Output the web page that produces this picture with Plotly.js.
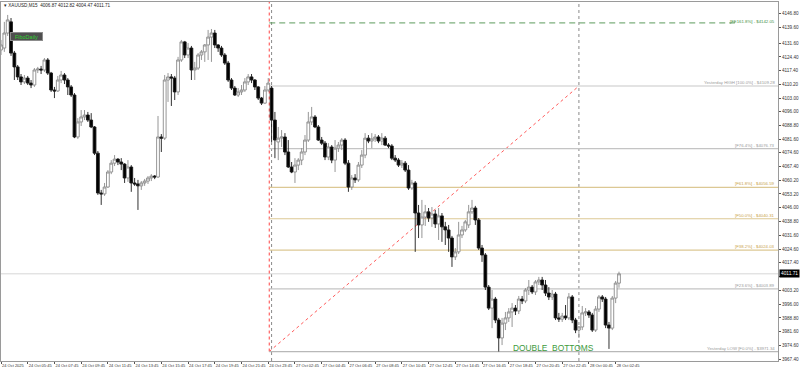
<!DOCTYPE html>
<html><head><meta charset="utf-8">
<script src="https://cdn.plot.ly/plotly-3.0.1.min.js"></script>
<style>html,body{margin:0;padding:0;background:#fff;}#chart{width:800px;height:370px;}</style>
</head><body><div id="chart"></div>
<script>
const symbol = "XAUUSD,M15";
const open = [
4128.0,4129.0,4136.8,4142.6,4126.4,4119.2,4114.0,4111.4,4113.4,4110.8,
4109.8,4117.6,4118.1,4117.6,4122.8,4116.0,4107.2,4106.7,4112.4,4115.0,
4112.4,4108.8,4104.6,4082.8,4090.6,4093.2,4094.2,4091.6,4088.0,4074.4,
4053.7,4053.2,4056.8,4064.6,4069.2,4071.3,4069.8,4068.7,4061.5,4067.2,
4058.9,4058.4,4057.4,4058.9,4059.9,4061.5,4062.5,4062.0,4082.8,4082.2,
4112.4,4114.0,4113.4,4106.2,4122.8,4132.2,4125.4,4129.0,4117.6,4118.6,
4125.4,4127.0,4130.6,4134.7,4136.8,4130.6,4129.0,4125.4,4121.2,4112.4,
4108.2,4104.6,4106.2,4107.2,4111.4,4114.0,4112.4,4108.8,4103.0,4100.4,
4107.2,
4108.2,4091.6,4080.2,4082.2,4082.8,4075.0,4067.2,4064.6,4068.2,
4070.8,4075.0,4081.2,4090.6,4093.2,4088.0,4081.2,4079.6,4072.4,4077.6,
4070.8,4077.0,4078.6,4081.2,4069.2,4056.8,4061.5,4060.5,4068.2,4073.4,
4082.2,4080.7,4081.8,4082.8,4080.7,4082.2,4078.6,4078.1,4071.8,4070.8,
4068.2,4069.2,4065.6,4056.3,4058.9,4043.3,4037.1,4041.2,4043.9,4040.7,
4042.8,4037.6,4041.8,4036.1,4034.5,4030.3,4020.5,4023.1,4031.9,4034.5,
4037.1,4043.9,4045.9,4039.7,4025.1,4021.5,4004.8,3993.9,3998.6,3987.7,
3978.4,3986.1,3988.8,3991.9,3993.9,3992.4,3998.6,3997.6,4003.3,4004.8,
4002.3,4007.5,4008.5,4005.9,4001.7,3999.7,4001.2,3988.8,3988.2,3989.8,
3988.8,3999.7,3987.7,3982.5,3984.1,3991.4,3991.9,3990.3,3982.5,3993.4,
3999.7,3998.6,3985.1,3983.5,3999.1,4006.87];
const high = [
4133.2,4142.6,4146.2,4144.6,4127.5,4120.2,4115.5,4115.0,4114.5,4112.4,
4118.6,4119.2,4119.7,4123.8,4123.8,4116.6,4108.8,4114.5,4117.1,4116.0,
4113.4,4109.8,4105.6,4092.6,4096.8,4096.8,4095.8,4095.2,4088.5,4075.5,
4055.3,4058.9,4065.6,4070.8,4073.4,4071.8,4071.8,4069.2,4070.8,4068.2,
4061.5,4060.5,4059.9,4061.0,4062.5,4063.5,4063.0,4093.7,4084.3,4115.0,
4116.0,4115.5,4114.5,4124.4,4133.2,4132.7,4131.6,4130.1,4121.8,4126.4,
4128.0,4131.1,4138.4,4138.9,4138.4,4131.1,4130.1,4126.4,4122.3,4113.4,
4109.3,4108.2,4109.8,4113.4,4115.5,4115.5,4112.9,4109.3,4103.6,4109.3,
4113.4,
4109.28,4095.8,4088.0,4086.4,4084.8,4081.2,4069.8,4071.8,4071.8,
4077.0,4083.8,4095.8,4098.4,4094.2,4089.0,4082.8,4080.7,4079.6,4078.6,
4081.2,4080.2,4082.2,4082.2,4070.8,4063.0,4063.5,4069.8,4076.0,4084.8,
4083.8,4084.8,4084.3,4083.8,4084.8,4083.3,4079.6,4079.1,4073.4,4071.8,
4070.8,4070.3,4068.2,4060.5,4059.9,4047.5,4050.1,4047.5,4045.9,4046.4,
4044.9,4045.9,4043.3,4038.7,4037.1,4031.4,4025.1,4038.7,4036.6,4039.7,
4047.5,4050.1,4047.0,4040.7,4026.7,4022.5,4005.9,4003.3,3999.7,3988.8,
3988.8,3991.9,3993.9,3996.5,3995.5,4000.2,4000.2,4004.3,4008.5,4005.9,
4008.5,4010.1,4010.1,4008.5,4004.8,4003.3,4002.3,3991.4,3991.4,3995.5,
4001.7,4000.7,3988.8,3984.6,3995.0,3993.9,3992.9,3991.4,3995.0,4000.7,
4000.7,3999.7,3986.7,4000.2,4008.0,4012.82];
const low = [
4125.4,4127.0,4135.3,4124.9,4112.4,4112.4,4109.8,4110.3,4109.8,4108.2,
4108.8,4116.0,4115.5,4116.6,4115.0,4106.2,4103.0,4106.2,4110.8,4110.3,
4104.6,4103.6,4082.2,4081.8,4088.5,4091.6,4090.6,4087.4,4073.4,4052.7,
4047.5,4052.2,4056.3,4063.5,4067.7,4068.2,4065.6,4058.9,4059.5,4054.3,
4057.4,4044.9,4055.3,4057.4,4058.4,4059.9,4060.9,4061.5,4075.0,4081.2,
4101.0,4098.9,4102.0,4104.6,4121.8,4123.8,4123.8,4112.4,4112.4,4117.6,
4122.8,4121.8,4122.8,4121.8,4129.0,4127.0,4124.4,4120.2,4111.4,4107.2,
4104.1,4103.6,4104.6,4106.2,4109.8,4110.8,4107.2,4102.0,4099.4,4099.9,
4106.2,
4080.2,4071.8,4070.8,4077.6,4073.4,4066.7,4064.0,4058.9,4065.6,
4068.2,4073.4,4080.2,4089.0,4087.4,4080.7,4078.6,4070.8,4070.8,4069.2,
4064.6,4075.0,4076.0,4068.2,4054.3,4055.3,4058.9,4059.5,4066.7,4071.8,
4079.6,4077.0,4080.2,4079.6,4078.6,4078.1,4077.0,4070.8,4069.8,4067.2,
4066.7,4064.6,4055.3,4055.3,4023.1,4030.3,4030.3,4036.6,4038.7,4036.1,
4035.5,4029.3,4028.3,4026.7,4023.1,4015.3,4018.9,4022.0,4030.3,4033.5,
4035.5,4042.8,4037.1,4024.1,4017.9,4003.3,3992.9,3983.5,3986.1,3971.34,
3974.7,3982.5,3986.7,3984.1,3990.3,3990.8,3996.0,3996.5,4000.7,4001.2,
4000.7,4005.9,4003.3,4000.2,3998.1,3998.1,3987.7,3986.7,3986.7,3987.7,
3987.7,3986.1,3980.9,3978.4,3982.5,3989.8,3988.8,3981.5,3981.5,3991.9,
3997.1,3983.5,3972.7,3982.5,3996.5,4004.47];
const close = [
4130.6,4136.8,4143.6,4126.4,4119.2,4114.0,4111.4,4113.4,4110.8,4109.8,
4117.6,4118.1,4117.6,4122.8,4116.0,4107.2,4106.7,4112.4,4115.0,4112.4,
4108.8,4104.6,4082.8,4090.6,4093.2,4094.2,4091.6,4088.0,4074.4,4053.7,
4053.2,4056.8,4064.6,4069.2,4071.3,4069.8,4068.7,4061.5,4067.2,4058.9,
4058.4,4057.4,4058.9,4059.9,4061.5,4062.5,4062.0,4082.8,4082.2,4112.4,
4114.0,4113.4,4106.2,4122.8,4132.2,4125.4,4129.0,4117.6,4118.6,4125.4,
4127.0,4130.6,4134.7,4136.8,4130.6,4129.0,4125.4,4121.2,4112.4,4108.2,
4104.6,4106.2,4107.2,4111.4,4114.0,4112.4,4108.8,4103.0,4100.4,4107.2,
4110.8,
4091.6,4081.2,4082.2,4082.8,4075.0,4067.2,4064.6,4068.2,4070.8,
4075.0,4081.2,4090.6,4093.2,4088.0,4081.2,4079.6,4072.4,4077.6,4070.8,
4077.0,4078.6,4081.2,4069.2,4056.8,4061.5,4060.5,4068.2,4073.4,4082.2,
4080.7,4081.8,4082.8,4080.7,4082.2,4078.6,4078.1,4071.8,4070.8,4068.2,
4069.2,4065.6,4056.3,4058.9,4043.3,4037.1,4041.2,4043.9,4040.7,4042.8,
4037.6,4041.8,4036.1,4034.5,4030.3,4020.5,4023.1,4031.9,4034.5,4038.7,
4043.9,4045.9,4039.7,4025.1,4021.5,4004.8,3993.9,3998.6,3987.7,3978.4,
3986.1,3988.8,3991.9,3993.9,3992.4,3998.6,3997.6,4003.3,4004.8,4002.3,
4007.5,4008.5,4005.9,4001.7,3999.7,4001.2,3988.8,3988.2,3989.8,3988.8,
3999.7,3987.7,3982.5,3984.1,3991.4,3991.9,3990.3,3982.5,3993.4,3999.7,
3998.6,3985.1,3983.5,3999.1,4006.9,4011.71];

const tickIdx = [0,8,16,24,32,40,48,56,64,72,80,88,96,104,112,120,128,136,144,152,160,168,176,184];
const tickText = ["24 Oct 2025","24 Oct 05:45","24 Oct 07:45","24 Oct 09:45","24 Oct 11:45","24 Oct 13:45",
"24 Oct 15:45","24 Oct 17:45","24 Oct 19:45","24 Oct 21:45","24 Oct 23:45","27 Oct 02:45","27 Oct 04:45",
"27 Oct 06:45","27 Oct 08:45","27 Oct 10:45","27 Oct 12:45","27 Oct 14:45","27 Oct 16:45","27 Oct 18:45",
"27 Oct 20:45","27 Oct 22:45","28 Oct 00:45","28 Oct 02:45"];
const priceTicks = [3967.40,3974.60,3981.60,3988.80,3996.00,4003.20,4010.20,4017.40,4024.60,4031.60,4038.80,
4046.00,4053.20,4060.20,4067.40,4074.60,4081.60,4088.80,4096.00,4103.00,4110.20,4117.40,4124.40,4131.60,4139.60,4146.80];

const yesterdayHigh = 4109.28;
const yesterdayLow = 3971.34;
const fibRatios = [0.236, 0.382, 0.5, 0.618, 0.764];
const fibNames = ["F23.6%", "F38.2%", "F50.0%", "F61.8%", "F76.4%"];
const fibColors = ["#c4c4c4", "#dcc894", "#dcc894", "#dcc894", "#c4c4c4"];
const fibTextColors = ["#9a9a9a", "#c9a24a", "#c9a24a", "#c9a24a", "#9a9a9a"];
const feName = "FE161.8%";
const feLevel = 4142.05;
const day27Start = 81;
const day28Start = 173;
const annotationText = "DOUBLE\u00a0\u00a0BOTTOMS";
const bottomIdx = [149, 182];

const n = close.length;
const xIdx = close.map((_, i) => i);
const xMin = 0, xMax = 232.6;
const yMin = 3966.42, yMax = 4152.92;
const last = n - 1;
const fibStart = day27Start - 0.7;

const trace = {
  type: 'candlestick', x: xIdx, open: open, high: high, low: low, close: close,
  increasing: {line: {color: '#8a8a8a', width: 0.9}, fillcolor: '#ffffff'},
  decreasing: {line: {color: '#1a1a1a', width: 0.9}, fillcolor: '#000000'},
  whiskerwidth: 0, hoverinfo: 'skip', showlegend: false
};

const fontFam = 'Liberation Sans, Arial, sans-serif';
const smallFont = {family: fontFam, size: 4.6, color: '#333'};
const shapes = [];
const annotations = [];

// day separators
[day27Start, day28Start].forEach(d => shapes.push({type: 'line', xref: 'x', yref: 'paper', x0: d, x1: d, y0: 0, y1: 1,
  line: {color: '#8a8a8a', width: 1, dash: 'dot'}, layer: 'below'}));
// fib anchor (red)
shapes.push({type: 'line', xref: 'x', yref: 'y', x0: fibStart, x1: fibStart, y0: yesterdayLow, y1: yMax,
  line: {color: '#ff4040', width: 1, dash: 'dot'}, layer: 'below'});
shapes.push({type: 'line', xref: 'x', yref: 'y', x0: fibStart, x1: day28Start, y0: yesterdayLow, y1: yesterdayHigh,
  line: {color: '#ff5a5a', width: 1, dash: 'dot'}, layer: 'below'});
// current price line
shapes.push({type: 'line', xref: 'paper', yref: 'y', x0: 0, x1: 1, y0: close[last], y1: close[last],
  line: {color: '#d6d6d6', width: 1}, layer: 'below'});
// yesterday high / low + fib levels
const levels = [{v: yesterdayHigh, c: '#c8c8c8', tc: '#9a9a9a', t: 'Yesterday HIGH [100.0%] - $' + yesterdayHigh.toFixed(2)},
                {v: yesterdayLow, c: '#b8b8b8', tc: '#9a9a9a', t: 'Yesterday LOW [F0.0%] - $' + yesterdayLow.toFixed(2)}];
fibRatios.forEach((r, k) => {
  const v = yesterdayLow + r * (yesterdayHigh - yesterdayLow);
  levels.push({v: v, c: fibColors[k], tc: fibTextColors[k], t: '[' + fibNames[k] + '] - $' + v.toFixed(2)});
});
levels.forEach(L => {
  shapes.push({type: 'line', xref: 'x', yref: 'y', x0: fibStart, x1: xMax, y0: L.v, y1: L.v,
    line: {color: L.c, width: 1.2}, layer: 'below'});
  annotations.push({xref: 'paper', yref: 'y', x: 1, y: L.v, xanchor: 'right', yanchor: 'bottom', xshift: -1, yshift: -1,
    text: L.t, showarrow: false, font: {family: fontFam, size: 4.3, color: L.tc}});
});
// FE level (dashed)
shapes.push({type: 'line', xref: 'x', yref: 'y', x0: fibStart, x1: 219.7, y0: feLevel, y1: feLevel,
  line: {color: '#5b9a5b', width: 1, dash: '6px,4px'}, layer: 'below'});
annotations.push({xref: 'paper', yref: 'y', x: 1, y: feLevel, xanchor: 'right', yanchor: 'middle', xshift: -1, yshift: 1,
  text: '[' + feName + '] - $' + feLevel.toFixed(2), showarrow: false, font: {family: fontFam, size: 4.3, color: '#3f8f3f'}});

// header
annotations.push({xref: 'paper', yref: 'paper', x: 0, y: 1, xanchor: 'left', yanchor: 'top', xshift: 1, yshift: 1,
  text: '\u25BE ' + symbol + '  ' + [open[last], high[last], low[last], close[last]].map(v => v.toFixed(2)).join(' '),
  showarrow: false, font: {family: fontFam, size: 4.6, color: '#222'}});
// FiboDaily box
annotations.push({xref: 'paper', yref: 'paper', x: 0.0116, y: 0.916, xanchor: 'left', yanchor: 'top',
  text: 'FiboDaily', showarrow: false, width: 31, height: 7, bgcolor: '#4f4f4f', bordercolor: '#8c8c8c', borderwidth: 1, borderpad: 0,
  font: {family: fontFam, size: 5.5, color: '#2fd12f'}});
// current price box
annotations.push({xref: 'paper', yref: 'y', x: 1, y: close[last], xanchor: 'left', yanchor: 'middle', xshift: 1,
  text: close[last].toFixed(2), showarrow: false, bgcolor: '#000', borderpad: 1,
  font: {family: fontFam, size: 4.8, color: '#fff'}});
// double bottoms text
annotations.push({xref: 'x', yref: 'y', x: (bottomIdx[0] + bottomIdx[1]) / 2, y: yesterdayLow + 1.9,
  xanchor: 'center', yanchor: 'middle', text: annotationText, showarrow: false,
  font: {family: fontFam, size: 8.4, color: '#3c9a3c'}});

// price tick labels: the one under the current-price box is hidden, as in the reference
const priceTickText = priceTicks.map(v => Math.abs(v - close[last]) < 3 ? '' : v.toFixed(2));

const layout = {
  width: 800, height: 370,
  margin: {l: 1, r: 22, t: 2, b: 9, pad: 0},
  paper_bgcolor: '#ffffff', plot_bgcolor: '#ffffff',
  showlegend: false, dragmode: false, boxgap: 0.12, boxgroupgap: 0.05,
  xaxis: {range: [xMin, xMax], rangeslider: {visible: false}, showgrid: false, zeroline: false,
    showline: true, mirror: true, linecolor: '#9a9a9a', linewidth: 1, automargin: false,
    tickmode: 'array', tickvals: tickIdx, ticktext: tickText, ticks: 'outside', ticklen: 2, tickcolor: '#555',
    tickangle: 0, ticklabelposition: 'outside right', ticklabelstandoff: 0,
    tickfont: {family: fontFam, size: 4.0, color: '#333'}, fixedrange: true},
  yaxis: {range: [yMin, yMax], side: 'right', showgrid: false, zeroline: false, automargin: false,
    showline: true, mirror: true, linecolor: '#9a9a9a', linewidth: 1,
    tickmode: 'array', tickvals: priceTicks, ticktext: priceTickText,
    ticks: 'outside', ticklen: 2, tickcolor: '#555', tickfont: smallFont, fixedrange: true},
  shapes: shapes,
  annotations: annotations
};

Plotly.newPlot('chart', [trace], layout, {staticPlot: true, displayModeBar: false});
</script>
</body></html>
